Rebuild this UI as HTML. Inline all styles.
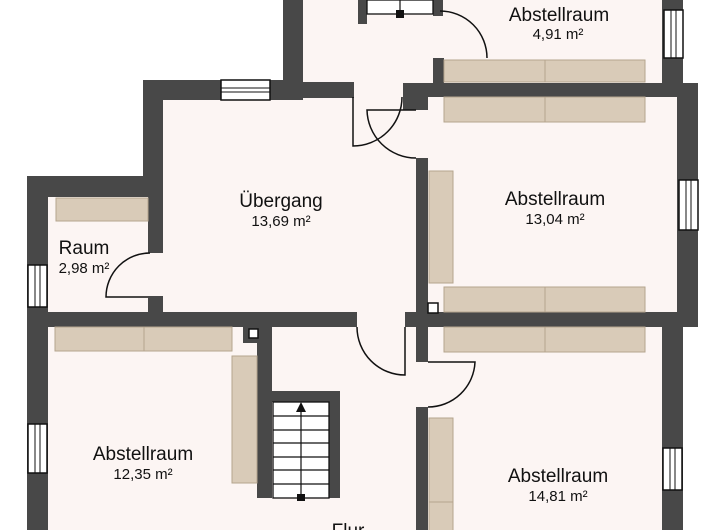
<!DOCTYPE html>
<html><head><meta charset="utf-8"><style>
html,body{margin:0;padding:0;background:#fff;width:720px;height:530px;overflow:hidden}
svg{display:block}
text{font-family:"Liberation Sans",sans-serif;fill:#111;text-anchor:middle}
</style></head><body>
<svg width="720" height="530" viewBox="0 0 720 530" xmlns="http://www.w3.org/2000/svg">
<!-- floor fills -->
<g fill="#fcf5f3">
<rect x="300" y="0" width="366" height="100"/>
<rect x="160" y="90" width="522" height="240"/>
<rect x="46" y="194" width="118" height="136"/>
<rect x="46" y="320" width="620" height="210"/>
</g>
<!-- walls -->
<g fill="#484848">
<rect x="283" y="0" width="20" height="100"/>
<rect x="143" y="80" width="159" height="20"/>
<rect x="302" y="82" width="52" height="16"/>
<rect x="403" y="83" width="295" height="14"/>
<rect x="403" y="83" width="10" height="14"/>
<rect x="433" y="58" width="11" height="39"/>
<rect x="403" y="97" width="25" height="13"/>
<rect x="662" y="0" width="21" height="90"/>
<rect x="677" y="83" width="21" height="244"/>
<rect x="143" y="80" width="20" height="116"/>
<rect x="27" y="176" width="136" height="21"/>
<rect x="27" y="176" width="21" height="354"/>
<rect x="148" y="176" width="15" height="77"/>
<rect x="148" y="296" width="15" height="31"/>
<rect x="27" y="312" width="330" height="15"/>
<rect x="405" y="312" width="293" height="15"/>
<rect x="416" y="158" width="12" height="204"/>
<rect x="416" y="407" width="12" height="123"/>
<rect x="662" y="312" width="21" height="218"/>
<rect x="257" y="327" width="15" height="171"/>
<rect x="243" y="327" width="15" height="16"/>
<rect x="272" y="391" width="68" height="11"/>
<rect x="329" y="391" width="11" height="107"/>
<rect x="358" y="0" width="9" height="24"/>
<rect x="433" y="0" width="10" height="16"/>
</g>
<!-- windows -->
<g fill="#fff" stroke="#111" stroke-width="1.5">
<rect x="221" y="80" width="49" height="20"/>
<rect x="664" y="10" width="19" height="48"/>
<rect x="679" y="180" width="19" height="50"/>
<rect x="28" y="265" width="19" height="42"/>
<rect x="28" y="424" width="19" height="49"/>
<rect x="663" y="448" width="19" height="42"/>
</g>
<g stroke="#111" stroke-width="1">
<line x1="221" y1="88" x2="270" y2="88"/><line x1="221" y1="92" x2="270" y2="92"/>
<line x1="671" y1="10" x2="671" y2="58"/><line x1="676" y1="10" x2="676" y2="58"/>
<line x1="686" y1="180" x2="686" y2="230"/><line x1="691" y1="180" x2="691" y2="230"/>
<line x1="35" y1="265" x2="35" y2="307"/><line x1="40" y1="265" x2="40" y2="307"/>
<line x1="35" y1="424" x2="35" y2="473"/><line x1="40" y1="424" x2="40" y2="473"/>
<line x1="670" y1="448" x2="670" y2="490"/><line x1="675" y1="448" x2="675" y2="490"/>
</g>
<!-- furniture -->
<g fill="#d9cbb8" stroke="#b5a58e" stroke-width="1">
<rect x="56" y="198" width="92" height="23"/>
<rect x="444" y="60" width="101" height="22"/><rect x="545" y="60" width="100" height="22"/>
<rect x="444" y="97" width="101" height="25"/><rect x="545" y="97" width="100" height="25"/>
<rect x="429" y="171" width="24" height="112"/>
<rect x="444" y="287" width="101" height="25"/><rect x="545" y="287" width="100" height="25"/>
<rect x="444" y="327" width="101" height="25"/><rect x="545" y="327" width="100" height="25"/>
<rect x="55" y="327" width="89" height="24"/><rect x="144" y="327" width="88" height="24"/>
<rect x="232" y="356" width="25" height="127"/>
<rect x="429" y="418" width="24" height="84"/><rect x="429" y="502" width="24" height="30"/>
</g>
<!-- small squares -->
<g fill="#fff" stroke="#111" stroke-width="1.5">
<rect x="428" y="303" width="10" height="10"/>
<rect x="249" y="329" width="9" height="9"/>
</g>
<!-- stairs -->
<g fill="#fff" stroke="#111" stroke-width="1.3">
<rect x="273" y="402" width="56" height="96"/>
<rect x="367" y="0" width="66" height="14"/>
</g>
<g stroke="#111" stroke-width="1.2">
<line x1="273" y1="416" x2="329" y2="416"/><line x1="273" y1="430" x2="329" y2="430"/>
<line x1="273" y1="443" x2="329" y2="443"/><line x1="273" y1="457" x2="329" y2="457"/>
<line x1="273" y1="470" x2="329" y2="470"/><line x1="273" y1="484" x2="329" y2="484"/>
<line x1="301" y1="410" x2="301" y2="498"/>
<line x1="400" y1="0" x2="400" y2="14"/>
</g>
<polygon points="301,402 296,412 306,412" fill="#111"/>
<rect x="297" y="494" width="8" height="7" fill="#111"/>
<rect x="396" y="10" width="8" height="8" fill="#111"/>
<!-- doors -->
<g fill="none" stroke="#111" stroke-width="1.5">
<path d="M440,11 A47,47 0 0 1 487,58"/>
<path d="M353,97 L353,146 A49,49 0 0 0 402,97"/>
<path d="M416,110 L367,110 A49,49 0 0 0 416,158"/>
<path d="M148,297 L106,297 A44,44 0 0 1 150,253"/>
<path d="M405,327 L405,375 A48,48 0 0 1 357,327"/>
<path d="M428,362 L475,362 A47,47 0 0 1 428,407"/>
</g>
<!-- labels -->
<g>
<text x="559" y="21" font-size="19">Abstellraum</text>
<text x="558" y="39" font-size="15">4,91 m²</text>
<text x="281" y="207" font-size="19">Übergang</text>
<text x="281" y="226" font-size="15">13,69 m²</text>
<text x="84" y="254" font-size="19">Raum</text>
<text x="84" y="273" font-size="15">2,98 m²</text>
<text x="555" y="205" font-size="19">Abstellraum</text>
<text x="555" y="224" font-size="15">13,04 m²</text>
<text x="143" y="460" font-size="19">Abstellraum</text>
<text x="143" y="479" font-size="15">12,35 m²</text>
<text x="558" y="482" font-size="19">Abstellraum</text>
<text x="558" y="501" font-size="15">14,81 m²</text>
<text x="348" y="537" font-size="19">Flur</text>
</g>
</svg>
</body></html>
